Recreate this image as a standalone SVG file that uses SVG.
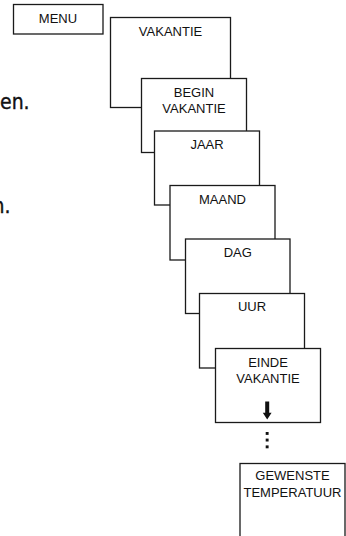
<svg xmlns="http://www.w3.org/2000/svg" width="346" height="536" viewBox="0 0 346 536">
<style>
.box{fill:#fff;stroke:#1a1a1a;stroke-width:1.3}
.lbl{font-family:"Liberation Sans",Arial,sans-serif;font-size:13px;fill:#111;text-anchor:middle}
.side{font-family:"DejaVu Sans Condensed","DejaVu Sans",sans-serif;font-stretch:condensed;font-size:21px;fill:#111;stroke:#111;stroke-width:0.35}
</style>
<rect width="346" height="536" fill="#fff"/>
<text class="side" x="0" y="108.5">en.</text>
<text class="side" x="10.5" y="213" text-anchor="end">n.</text>
<g id="menu"><rect class="box" x="13.5" y="4.5" width="89.5" height="29.5"/><text class="lbl" x="58" y="22.7">MENU</text></g>
<g id="vakantie"><rect class="box" x="110.5" y="17.5" width="120" height="90"/><text class="lbl" x="170.5" y="35.7">VAKANTIE</text></g>
<g id="begin-vakantie"><rect class="box" x="141.5" y="78.5" width="105" height="74"/><text class="lbl" x="194" y="96.7">BEGIN</text><text class="lbl" x="194" y="112.7">VAKANTIE</text></g>
<g id="jaar"><rect class="box" x="154.5" y="131" width="105" height="74"/><text class="lbl" x="207" y="148.7">JAAR</text></g>
<g id="maand"><rect class="box" x="170" y="185.5" width="105" height="74.5"/><text class="lbl" x="222.5" y="203.7">MAAND</text></g>
<g id="dag"><rect class="box" x="185.5" y="239" width="104.5" height="74.5"/><text class="lbl" x="237.8" y="257.3">DAG</text></g>
<g id="uur"><rect class="box" x="199.5" y="293.5" width="105" height="74.5"/><text class="lbl" x="252" y="311.3">UUR</text></g>
<g id="einde-vakantie"><rect class="box" x="215.5" y="348.5" width="105" height="74"/><text class="lbl" x="268" y="366.7">EINDE</text><text class="lbl" x="268" y="382.7">VAKANTIE</text></g>
<g id="gewenste-temperatuur"><rect class="box" x="240" y="463.5" width="105" height="74"/><text class="lbl" x="292.5" y="480.3">GEWENSTE</text><text class="lbl" x="292.5" y="496.5">TEMPERATUUR</text></g>
<g id="connectors" fill="#111">
<path d="M265.2,401.5 H269.2 V412.8 H271.6 L267.2,419.5 L262.8,412.8 H265.2 Z"/>
<rect x="265.7" y="432" width="2.9" height="2.9"/>
<rect x="265.7" y="438.6" width="2.9" height="2.9"/>
<rect x="265.7" y="445.4" width="2.9" height="2.9"/>
</g>
</svg>
